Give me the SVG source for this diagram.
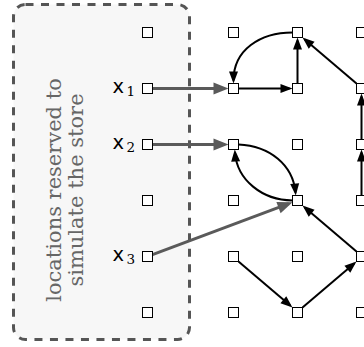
<svg xmlns="http://www.w3.org/2000/svg" width="364" height="347" viewBox="0 0 364 347">
<style>
.box{fill:#fff;stroke:#000;stroke-width:1}
.blk{fill:none;stroke:#000;stroke-width:2;marker-end:url(#ab)}
.gry{fill:none;stroke:#5a5a5a;stroke-width:3;marker-end:url(#ag)}
.lbl{font-family:"DejaVu Sans",sans-serif;font-size:19.5px;fill:#000}
.sub{font-family:"DejaVu Serif",serif;font-size:13.5px;fill:#000}
.note{font-family:"DejaVu Serif",serif;font-size:21px;fill:#666;text-anchor:middle}
</style>
<defs>
<marker id="ab" markerUnits="userSpaceOnUse" markerWidth="12" markerHeight="9" refX="9" refY="4.5" orient="auto" overflow="visible"><path d="M0,0 L12,4.5 L0,9 z" fill="#000"/></marker>
<marker id="ag" markerUnits="userSpaceOnUse" markerWidth="15" markerHeight="12" refX="11" refY="6" orient="auto" overflow="visible"><path d="M0,0 L15,6 L0,12 z" fill="#5a5a5a"/></marker>
</defs>
<g id="store-region">
<rect x="13.5" y="4.5" width="176" height="335" rx="12" ry="12" fill="#f7f7f7" stroke="#555" stroke-width="3" stroke-dasharray="8 7.5"/>
<text class="note" transform="translate(61,190) rotate(-90)">locations reserved to</text>
<text class="note" transform="translate(83,190) rotate(-90)">simulate the store</text>
</g>
<g id="connectors">
<line class="gry" x1="152.5" y1="88.5" x2="224.5" y2="88.5"/>
<line class="gry" x1="152.5" y1="144.5" x2="224.5" y2="144.5"/>
<line class="gry" x1="152.5" y1="254.7" x2="288.8" y2="203.7"/>
<line class="blk" x1="238.5" y1="88.5" x2="289.5" y2="88.5"/>
<line class="blk" x1="297.5" y1="83.5" x2="297.5" y2="40.5"/>
<path class="blk" d="M292.5,32.5 C260,32.5 233.5,50 233.5,80.5"/>
<line class="blk" x1="356.5" y1="83.5" x2="304.8" y2="39.45"/>
<line class="blk" x1="361.5" y1="139.5" x2="361.5" y2="96.5"/>
<line class="blk" x1="361.5" y1="195.5" x2="361.5" y2="152.5"/>
<path class="blk" d="M238.5,144.5 C270,146 293,165 295.5,192.5"/>
<path class="blk" d="M292.5,200.5 C262,200 237,180 235,152.5"/>
<line class="blk" x1="356.5" y1="251.5" x2="304.8" y2="207.45"/>
<line class="blk" x1="238.5" y1="261.5" x2="290.2" y2="305.55"/>
<line class="blk" x1="302.5" y1="307.5" x2="354.2" y2="263.45"/>
</g>
<g id="labels">
<text class="lbl" x="112.5" y="92.5">x</text><text class="sub" x="126.5" y="96">1</text>
<text class="lbl" x="112.5" y="148.5">x</text><text class="sub" x="126.5" y="152">2</text>
<text class="lbl" x="112.5" y="260.5">x</text><text class="sub" x="126.5" y="264">3</text>
</g>
<g id="nodes">
<g id="n00"><rect class="box" x="142.5" y="27.5" width="10" height="10"/></g>
<g id="n01"><rect class="box" x="142.5" y="83.5" width="10" height="10"/></g>
<g id="n02"><rect class="box" x="142.5" y="139.5" width="10" height="10"/></g>
<g id="n03"><rect class="box" x="142.5" y="195.5" width="10" height="10"/></g>
<g id="n04"><rect class="box" x="142.5" y="251.5" width="10" height="10"/></g>
<g id="n05"><rect class="box" x="142.5" y="307.5" width="10" height="10"/></g>
<g id="n10"><rect class="box" x="228.5" y="27.5" width="10" height="10"/></g>
<g id="n11"><rect class="box" x="228.5" y="83.5" width="10" height="10"/></g>
<g id="n12"><rect class="box" x="228.5" y="139.5" width="10" height="10"/></g>
<g id="n13"><rect class="box" x="228.5" y="195.5" width="10" height="10"/></g>
<g id="n14"><rect class="box" x="228.5" y="251.5" width="10" height="10"/></g>
<g id="n15"><rect class="box" x="228.5" y="307.5" width="10" height="10"/></g>
<g id="n20"><rect class="box" x="292.5" y="27.5" width="10" height="10"/></g>
<g id="n21"><rect class="box" x="292.5" y="83.5" width="10" height="10"/></g>
<g id="n22"><rect class="box" x="292.5" y="139.5" width="10" height="10"/></g>
<g id="n23"><rect class="box" x="292.5" y="195.5" width="10" height="10"/></g>
<g id="n24"><rect class="box" x="292.5" y="251.5" width="10" height="10"/></g>
<g id="n25"><rect class="box" x="292.5" y="307.5" width="10" height="10"/></g>
<g id="n30"><rect class="box" x="356.5" y="27.5" width="10" height="10"/></g>
<g id="n31"><rect class="box" x="356.5" y="83.5" width="10" height="10"/></g>
<g id="n32"><rect class="box" x="356.5" y="139.5" width="10" height="10"/></g>
<g id="n33"><rect class="box" x="356.5" y="195.5" width="10" height="10"/></g>
<g id="n34"><rect class="box" x="356.5" y="251.5" width="10" height="10"/></g>
<g id="n35"><rect class="box" x="356.5" y="307.5" width="10" height="10"/></g>
</g>
</svg>
